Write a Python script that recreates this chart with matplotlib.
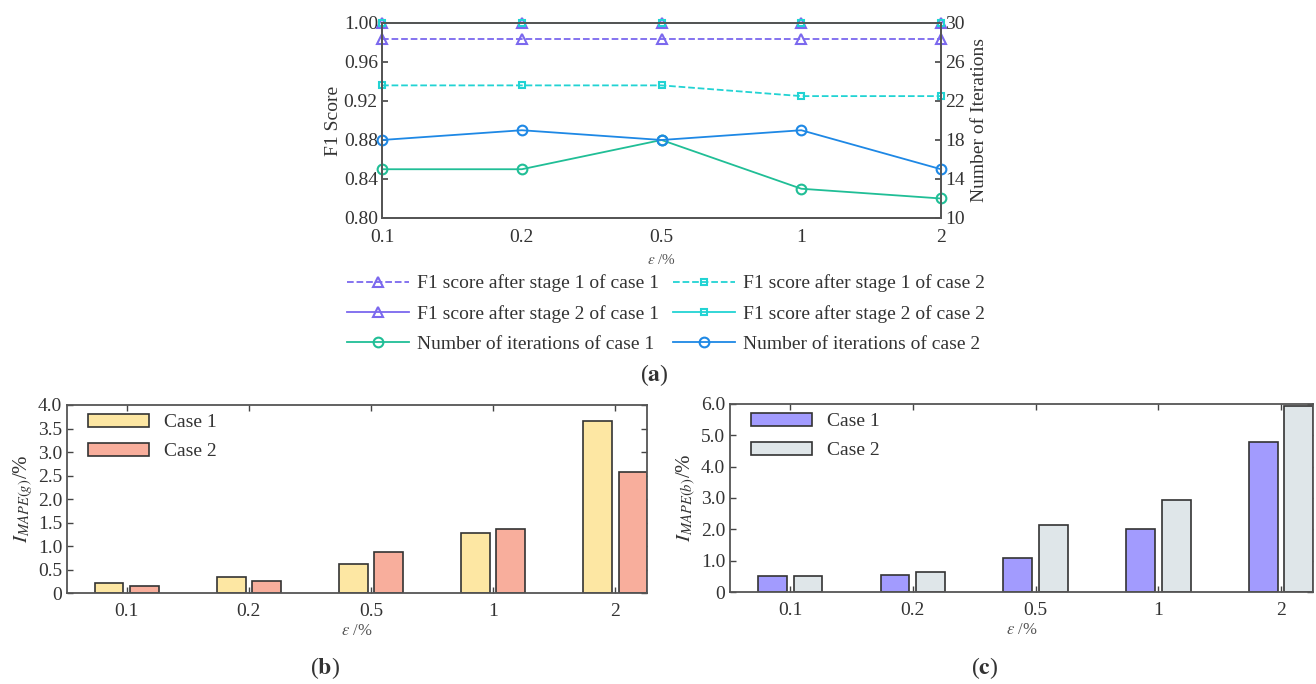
import numpy as np
import matplotlib
matplotlib.use("Agg")
import matplotlib.pyplot as plt

# data
eps_labels = ["0.1", "0.2", "0.5", "1", "2"]

f1_stage1_case1 = [0.984, 0.984, 0.984, 0.984, 0.984]
f1_stage2_case1 = [1.00, 1.00, 1.00, 1.00, 1.00]
f1_stage1_case2 = [0.936, 0.936, 0.936, 0.925, 0.925]
f1_stage2_case2 = [1.00, 1.00, 1.00, 1.00, 1.00]
iters_case1 = [15, 15, 18, 13, 12]
iters_case2 = [18, 19, 18, 19, 15]

mape_g_case1 = [0.21, 0.35, 0.61, 1.28, 3.65]
mape_g_case2 = [0.16, 0.26, 0.88, 1.36, 2.57]
mape_b_case1 = [0.50, 0.53, 1.10, 2.00, 4.80]
mape_b_case2 = [0.50, 0.64, 2.15, 2.93, 5.95]

plt.rcParams["font.family"] = "Liberation Serif"
plt.rcParams["mathtext.fontset"] = "stix"
plt.rcParams["text.color"] = "#333333"
plt.rcParams["axes.labelcolor"] = "#333333"
plt.rcParams["xtick.color"] = "#444444"
plt.rcParams["ytick.color"] = "#444444"
plt.rcParams["xtick.labelcolor"] = "#333333"
plt.rcParams["ytick.labelcolor"] = "#333333"

SPINE = "#555555"
PURPLE = "#7b68ee"
CYAN = "#22d3d3"
GREEN = "#20be96"
BLUE = "#1e88e5"

x = np.arange(len(eps_labels))

fig = plt.figure(figsize=(13.16, 6.84), dpi=100)


def style_spines(ax):
    for s in ax.spines.values():
        s.set_color(SPINE)
        s.set_linewidth(1.3)


# ---- (a) line chart ----
ax = fig.add_axes([0.2903, 0.6813, 0.4248, 0.2851])
ax2 = ax.twinx()
kw = dict(lw=1.3, mfc="none", mew=1.5, clip_on=False)
h1, = ax.plot(x, f1_stage1_case1, ls="--", color=PURPLE, marker="^", ms=7,
              label="F1 score after stage 1 of case 1", **kw)
h2, = ax.plot(x, f1_stage2_case1, ls="-", color=PURPLE, marker="^", ms=7,
              label="F1 score after stage 2 of case 1", **kw)
h4, = ax.plot(x, f1_stage1_case2, ls="--", color=CYAN, marker="s", ms=5,
              label="F1 score after stage 1 of case 2", **kw)
h5, = ax.plot(x, f1_stage2_case2, ls="-", color=CYAN, marker="s", ms=5,
              label="F1 score after stage 2 of case 2", **kw)
h3, = ax2.plot(x, iters_case1, ls="-", color=GREEN, marker="o", ms=7,
               label="Number of iterations of case 1", **kw)
h6, = ax2.plot(x, iters_case2, ls="-", color=BLUE, marker="o", ms=7,
               label="Number of iterations of case 2", **kw)

ax.set_xlim(0, 4)
ax.set_ylim(0.80, 1.00)
ax.set_yticks(np.arange(0.80, 1.001, 0.04))
ax.set_yticklabels(["%.2f" % v for v in np.arange(0.80, 1.001, 0.04)])
ax.set_xticks(x)
ax.set_xticklabels(eps_labels)
ax2.set_ylim(10, 30)
ax2.set_yticks(range(10, 31, 4))
ax.tick_params(axis="both", direction="in", labelsize=14, length=4, width=1.2,
               pad=3)
ax.tick_params(axis="x", length=0, pad=8)
ax2.tick_params(axis="y", direction="in", labelsize=14, length=4, width=1.2,
                pad=3)
ax.set_ylabel("F1 Score", fontsize=14, labelpad=1)
ax2.set_ylabel("Number of Iterations", fontsize=14, labelpad=4)
ax.set_xlabel(r"$\varepsilon$ /%", fontsize=11, color="#555555", labelpad=5)
style_spines(ax)
style_spines(ax2)

fig.legend(handles=[h1, h2, h3, h4, h5, h6], ncol=2, loc="center",
           bbox_to_anchor=(0.5060, 0.5415), frameon=False, fontsize=14,
           handlelength=3.2, handletextpad=0.4, columnspacing=0.7,
           labelspacing=0.64, numpoints=1)
fig.text(0.497, 0.452, r"($\mathbf{a}$)", fontsize=17, ha="center", va="center")


# ---- (b) and (c) bar charts ----
def bar_panel(rect, v1, v2, c1, c2, ymax, yticks, yticklabels, ylabel):
    axb = fig.add_axes(rect)
    w = 0.235
    off = 0.145
    axb.bar(x - off, v1, w, color=c1, edgecolor="#333333", lw=1.2,
            label="Case 1", zorder=2)
    axb.bar(x + off, v2, w, color=c2, edgecolor="#333333", lw=1.2,
            label="Case 2", zorder=2)
    axb.set_xlim(-0.49, 4.26)
    axb.set_ylim(0, ymax)
    axb.set_xticks(x)
    axb.set_xticklabels(eps_labels)
    axb.set_yticks(yticks)
    axb.set_yticklabels(yticklabels)
    axb.tick_params(axis="both", direction="in", labelsize=14, length=4,
                    width=1.0, top=True, right=True)
    axb.tick_params(axis="x", pad=7)
    axb.set_xlabel(r"$\varepsilon$ /%", fontsize=12, color="#555555",
                   labelpad=2)
    axb.set_ylabel(ylabel, fontsize=15, labelpad=2)
    axb.legend(loc="upper left", bbox_to_anchor=(0.03, 0.975), frameon=False,
               fontsize=14, handlelength=3.1, handleheight=0.65,
               handletextpad=0.8, labelspacing=0.6, borderpad=0.2,
               borderaxespad=0)
    style_spines(axb)
    return axb


bar_panel([0.0509, 0.1330, 0.4407, 0.2749], mape_g_case1, mape_g_case2,
          "#fde7a3", "#f8ae9c", 4.0, np.arange(0, 4.01, 0.5),
          ["0"] + ["%.1f" % v for v in np.arange(0.5, 4.01, 0.5)],
          r"$I_{MAPE(g)}$/%")
bar_panel([0.5547, 0.1345, 0.4430, 0.2749], mape_b_case1, mape_b_case2,
          "#a29bfe", "#dfe6e9", 6.0, np.arange(0, 6.01, 1.0),
          ["0"] + ["%.1f" % v for v in np.arange(1.0, 6.01, 1.0)],
          r"$I_{MAPE(b)}$/%")

fig.text(0.247, 0.024, r"($\mathbf{b}$)", fontsize=17, ha="center", va="center")
fig.text(0.748, 0.024, r"($\mathbf{c}$)", fontsize=17, ha="center", va="center")

fig.savefig("out.png", dpi=100)
